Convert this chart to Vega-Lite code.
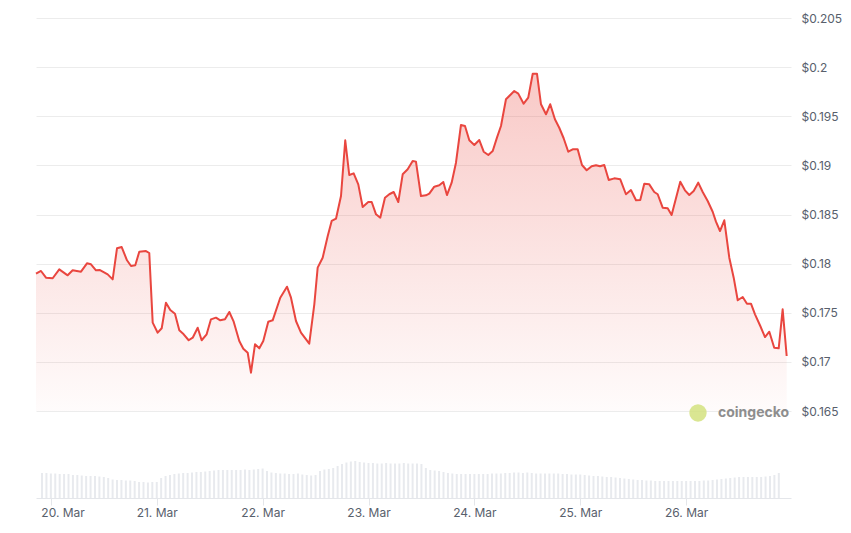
{
  "$schema": "https://vega.github.io/schema/vega-lite/v6.json",
  "background": "#ffffff",
  "padding": {"left": 35, "top": 12, "right": 0, "bottom": 5},
  "bounds": "flush",
  "config": {
    "view": {"stroke": null},
    "font": "Inter",
    "axis": {"labelFont": "Inter", "labelFontSize": 12, "labelColor": "#58606c"}
  },
  "datasets": {
    "price": [
      {"t": "2025-03-19T21:46Z", "p": 0.17897}, {"t": "2025-03-19T22:53Z", "p": 0.17925},
      {"t": "2025-03-20T00:00Z", "p": 0.17857}, {"t": "2025-03-20T01:30Z", "p": 0.17851},
      {"t": "2025-03-20T02:58Z", "p": 0.17942}, {"t": "2025-03-20T04:51Z", "p": 0.17881},
      {"t": "2025-03-20T05:58Z", "p": 0.17932}, {"t": "2025-03-20T07:50Z", "p": 0.17918},
      {"t": "2025-03-20T09:10Z", "p": 0.18003}, {"t": "2025-03-20T10:04Z", "p": 0.17993},
      {"t": "2025-03-20T11:11Z", "p": 0.17932}, {"t": "2025-03-20T12:05Z", "p": 0.17935},
      {"t": "2025-03-20T13:48Z", "p": 0.17891}, {"t": "2025-03-20T14:55Z", "p": 0.17840},
      {"t": "2025-03-20T15:53Z", "p": 0.18156}, {"t": "2025-03-20T16:56Z", "p": 0.18169},
      {"t": "2025-03-20T18:07Z", "p": 0.18034}, {"t": "2025-03-20T19:01Z", "p": 0.17976},
      {"t": "2025-03-20T19:58Z", "p": 0.17983}, {"t": "2025-03-20T20:52Z", "p": 0.18121},
      {"t": "2025-03-20T22:22Z", "p": 0.18128}, {"t": "2025-03-20T23:06Z", "p": 0.18108},
      {"t": "2025-03-20T23:52Z", "p": 0.17399}, {"t": "2025-03-21T00:59Z", "p": 0.17297},
      {"t": "2025-03-21T01:53Z", "p": 0.17342}, {"t": "2025-03-21T02:50Z", "p": 0.17602},
      {"t": "2025-03-21T03:48Z", "p": 0.17528}, {"t": "2025-03-21T04:51Z", "p": 0.17490},
      {"t": "2025-03-21T05:49Z", "p": 0.17321}, {"t": "2025-03-21T06:48Z", "p": 0.17281},
      {"t": "2025-03-21T07:55Z", "p": 0.17220}, {"t": "2025-03-21T08:49Z", "p": 0.17246},
      {"t": "2025-03-21T09:56Z", "p": 0.17348}, {"t": "2025-03-21T10:49Z", "p": 0.17220},
      {"t": "2025-03-21T11:56Z", "p": 0.17281}, {"t": "2025-03-21T12:54Z", "p": 0.17433},
      {"t": "2025-03-21T14:01Z", "p": 0.17450}, {"t": "2025-03-21T14:59Z", "p": 0.17423},
      {"t": "2025-03-21T16:02Z", "p": 0.17433}, {"t": "2025-03-21T17:00Z", "p": 0.17508},
      {"t": "2025-03-21T17:59Z", "p": 0.17409}, {"t": "2025-03-21T19:14Z", "p": 0.17212},
      {"t": "2025-03-21T20:08Z", "p": 0.17134}, {"t": "2025-03-21T21:07Z", "p": 0.17093},
      {"t": "2025-03-21T21:51Z", "p": 0.16890}, {"t": "2025-03-21T22:45Z", "p": 0.17179},
      {"t": "2025-03-21T23:43Z", "p": 0.17138}, {"t": "2025-03-22T00:36Z", "p": 0.17212},
      {"t": "2025-03-22T01:43Z", "p": 0.17409}, {"t": "2025-03-22T02:42Z", "p": 0.17423},
      {"t": "2025-03-22T04:24Z", "p": 0.17653}, {"t": "2025-03-22T05:54Z", "p": 0.17765},
      {"t": "2025-03-22T06:48Z", "p": 0.17653}, {"t": "2025-03-22T07:55Z", "p": 0.17416},
      {"t": "2025-03-22T09:02Z", "p": 0.17297}, {"t": "2025-03-22T10:53Z", "p": 0.17185},
      {"t": "2025-03-22T12:01Z", "p": 0.17586}, {"t": "2025-03-22T12:46Z", "p": 0.17959},
      {"t": "2025-03-22T13:53Z", "p": 0.18060}, {"t": "2025-03-22T15:01Z", "p": 0.18281},
      {"t": "2025-03-22T15:54Z", "p": 0.18434}, {"t": "2025-03-22T16:52Z", "p": 0.18457},
      {"t": "2025-03-22T17:59Z", "p": 0.18688}, {"t": "2025-03-22T18:56Z", "p": 0.19255},
      {"t": "2025-03-22T19:50Z", "p": 0.18902}, {"t": "2025-03-22T20:49Z", "p": 0.18919},
      {"t": "2025-03-22T21:51Z", "p": 0.18807}, {"t": "2025-03-22T22:50Z", "p": 0.18576},
      {"t": "2025-03-23T00:05Z", "p": 0.18627}, {"t": "2025-03-23T00:51Z", "p": 0.18627},
      {"t": "2025-03-23T01:49Z", "p": 0.18502}, {"t": "2025-03-23T02:46Z", "p": 0.18467},
      {"t": "2025-03-23T03:49Z", "p": 0.18671}, {"t": "2025-03-23T04:47Z", "p": 0.18706},
      {"t": "2025-03-23T05:46Z", "p": 0.18729}, {"t": "2025-03-23T06:48Z", "p": 0.18627},
      {"t": "2025-03-23T07:47Z", "p": 0.18909}, {"t": "2025-03-23T08:54Z", "p": 0.18960},
      {"t": "2025-03-23T10:01Z", "p": 0.19045}, {"t": "2025-03-23T10:45Z", "p": 0.19038},
      {"t": "2025-03-23T11:52Z", "p": 0.18688}, {"t": "2025-03-23T12:59Z", "p": 0.18695},
      {"t": "2025-03-23T13:44Z", "p": 0.18712}, {"t": "2025-03-23T14:51Z", "p": 0.18783},
      {"t": "2025-03-23T15:58Z", "p": 0.18797}, {"t": "2025-03-23T16:52Z", "p": 0.18831},
      {"t": "2025-03-23T17:41Z", "p": 0.18698}, {"t": "2025-03-23T18:44Z", "p": 0.18824},
      {"t": "2025-03-23T19:42Z", "p": 0.19027}, {"t": "2025-03-23T20:49Z", "p": 0.19411},
      {"t": "2025-03-23T21:43Z", "p": 0.19401}, {"t": "2025-03-23T22:41Z", "p": 0.19255},
      {"t": "2025-03-23T23:48Z", "p": 0.19207}, {"t": "2025-03-24T00:55Z", "p": 0.19258},
      {"t": "2025-03-24T01:54Z", "p": 0.19139}, {"t": "2025-03-24T02:56Z", "p": 0.19106},
      {"t": "2025-03-24T03:55Z", "p": 0.19146}, {"t": "2025-03-24T04:52Z", "p": 0.19282},
      {"t": "2025-03-24T05:46Z", "p": 0.19401}, {"t": "2025-03-24T06:53Z", "p": 0.19673},
      {"t": "2025-03-24T08:44Z", "p": 0.19757}, {"t": "2025-03-24T09:38Z", "p": 0.19730},
      {"t": "2025-03-24T10:50Z", "p": 0.19628}, {"t": "2025-03-24T11:52Z", "p": 0.19689},
      {"t": "2025-03-24T12:52Z", "p": 0.19933}, {"t": "2025-03-24T13:49Z", "p": 0.19933},
      {"t": "2025-03-24T14:43Z", "p": 0.19622}, {"t": "2025-03-24T15:50Z", "p": 0.19520},
      {"t": "2025-03-24T16:47Z", "p": 0.19622}, {"t": "2025-03-24T17:50Z", "p": 0.19469},
      {"t": "2025-03-24T18:48Z", "p": 0.19383}, {"t": "2025-03-24T19:47Z", "p": 0.19276},
      {"t": "2025-03-24T20:49Z", "p": 0.19139}, {"t": "2025-03-24T21:48Z", "p": 0.19164},
      {"t": "2025-03-24T22:55Z", "p": 0.19164}, {"t": "2025-03-24T23:53Z", "p": 0.19004},
      {"t": "2025-03-25T00:56Z", "p": 0.18950}, {"t": "2025-03-25T02:03Z", "p": 0.18991},
      {"t": "2025-03-25T03:01Z", "p": 0.19001}, {"t": "2025-03-25T03:55Z", "p": 0.18991},
      {"t": "2025-03-25T04:52Z", "p": 0.19004}, {"t": "2025-03-25T05:52Z", "p": 0.18851},
      {"t": "2025-03-25T07:07Z", "p": 0.18868}, {"t": "2025-03-25T08:27Z", "p": 0.18858},
      {"t": "2025-03-25T09:43Z", "p": 0.18706}, {"t": "2025-03-25T10:50Z", "p": 0.18749},
      {"t": "2025-03-25T11:58Z", "p": 0.18645}, {"t": "2025-03-25T12:55Z", "p": 0.18648},
      {"t": "2025-03-25T13:49Z", "p": 0.18814}, {"t": "2025-03-25T14:56Z", "p": 0.18807},
      {"t": "2025-03-25T16:03Z", "p": 0.18729}, {"t": "2025-03-25T16:49Z", "p": 0.18706},
      {"t": "2025-03-25T17:56Z", "p": 0.18569}, {"t": "2025-03-25T19:03Z", "p": 0.18563},
      {"t": "2025-03-25T19:56Z", "p": 0.18495}, {"t": "2025-03-25T21:52Z", "p": 0.18834},
      {"t": "2025-03-25T22:55Z", "p": 0.18746}, {"t": "2025-03-25T23:53Z", "p": 0.18698},
      {"t": "2025-03-26T00:52Z", "p": 0.18739}, {"t": "2025-03-26T01:53Z", "p": 0.18824},
      {"t": "2025-03-26T02:53Z", "p": 0.18729}, {"t": "2025-03-26T04:00Z", "p": 0.18637},
      {"t": "2025-03-26T05:07Z", "p": 0.18528}, {"t": "2025-03-26T05:51Z", "p": 0.18427},
      {"t": "2025-03-26T06:45Z", "p": 0.18332}, {"t": "2025-03-26T07:43Z", "p": 0.18441},
      {"t": "2025-03-26T08:50Z", "p": 0.18060}, {"t": "2025-03-26T09:49Z", "p": 0.17857},
      {"t": "2025-03-26T10:43Z", "p": 0.17627}, {"t": "2025-03-26T11:50Z", "p": 0.17660},
      {"t": "2025-03-26T12:47Z", "p": 0.17592}, {"t": "2025-03-26T13:41Z", "p": 0.17592},
      {"t": "2025-03-26T14:35Z", "p": 0.17484}, {"t": "2025-03-26T15:46Z", "p": 0.17365},
      {"t": "2025-03-26T16:49Z", "p": 0.17253}, {"t": "2025-03-26T17:47Z", "p": 0.17307},
      {"t": "2025-03-26T18:53Z", "p": 0.17144}, {"t": "2025-03-26T19:53Z", "p": 0.17138},
      {"t": "2025-03-26T20:46Z", "p": 0.17535}, {"t": "2025-03-26T21:40Z", "p": 0.17060}
    ],
    "vol": [
      {"t": "2025-03-19T22:00Z", "v": 25}, {"t": "2025-03-19T23:00Z", "v": 25},
      {"t": "2025-03-20T00:00Z", "v": 24.5}, {"t": "2025-03-20T01:00Z", "v": 24.5}, {"t": "2025-03-20T02:00Z", "v": 24}, {"t": "2025-03-20T03:00Z", "v": 24},
      {"t": "2025-03-20T04:00Z", "v": 24}, {"t": "2025-03-20T05:00Z", "v": 23}, {"t": "2025-03-20T06:00Z", "v": 23}, {"t": "2025-03-20T07:00Z", "v": 22.5},
      {"t": "2025-03-20T08:00Z", "v": 22}, {"t": "2025-03-20T09:00Z", "v": 22}, {"t": "2025-03-20T10:00Z", "v": 22}, {"t": "2025-03-20T11:00Z", "v": 21.5},
      {"t": "2025-03-20T12:00Z", "v": 21}, {"t": "2025-03-20T13:00Z", "v": 20}, {"t": "2025-03-20T14:00Z", "v": 18.5}, {"t": "2025-03-20T15:00Z", "v": 18},
      {"t": "2025-03-20T16:00Z", "v": 18}, {"t": "2025-03-20T17:00Z", "v": 17.5}, {"t": "2025-03-20T18:00Z", "v": 17.5}, {"t": "2025-03-20T19:00Z", "v": 17},
      {"t": "2025-03-20T20:00Z", "v": 16}, {"t": "2025-03-20T21:00Z", "v": 16}, {"t": "2025-03-20T22:00Z", "v": 15.5}, {"t": "2025-03-20T23:00Z", "v": 16},
      {"t": "2025-03-21T00:00Z", "v": 16}, {"t": "2025-03-21T01:00Z", "v": 20}, {"t": "2025-03-21T02:00Z", "v": 22}, {"t": "2025-03-21T03:00Z", "v": 23},
      {"t": "2025-03-21T04:00Z", "v": 24}, {"t": "2025-03-21T05:00Z", "v": 24.5}, {"t": "2025-03-21T06:00Z", "v": 25}, {"t": "2025-03-21T07:00Z", "v": 25},
      {"t": "2025-03-21T08:00Z", "v": 25.5}, {"t": "2025-03-21T09:00Z", "v": 26}, {"t": "2025-03-21T10:00Z", "v": 26}, {"t": "2025-03-21T11:00Z", "v": 26.5},
      {"t": "2025-03-21T12:00Z", "v": 27}, {"t": "2025-03-21T13:00Z", "v": 27.5}, {"t": "2025-03-21T14:00Z", "v": 28}, {"t": "2025-03-21T15:00Z", "v": 28},
      {"t": "2025-03-21T16:00Z", "v": 28}, {"t": "2025-03-21T17:00Z", "v": 28}, {"t": "2025-03-21T18:00Z", "v": 28}, {"t": "2025-03-21T19:00Z", "v": 28},
      {"t": "2025-03-21T20:00Z", "v": 28.5}, {"t": "2025-03-21T21:00Z", "v": 28}, {"t": "2025-03-21T22:00Z", "v": 28.5}, {"t": "2025-03-21T23:00Z", "v": 29},
      {"t": "2025-03-22T00:00Z", "v": 29.5}, {"t": "2025-03-22T01:00Z", "v": 27}, {"t": "2025-03-22T02:00Z", "v": 25.5}, {"t": "2025-03-22T03:00Z", "v": 25},
      {"t": "2025-03-22T04:00Z", "v": 24.5}, {"t": "2025-03-22T05:00Z", "v": 24.5}, {"t": "2025-03-22T06:00Z", "v": 24}, {"t": "2025-03-22T07:00Z", "v": 24},
      {"t": "2025-03-22T08:00Z", "v": 24.5}, {"t": "2025-03-22T09:00Z", "v": 23.5}, {"t": "2025-03-22T10:00Z", "v": 23}, {"t": "2025-03-22T11:00Z", "v": 22.5},
      {"t": "2025-03-22T12:00Z", "v": 23}, {"t": "2025-03-22T13:00Z", "v": 27}, {"t": "2025-03-22T14:00Z", "v": 28.5}, {"t": "2025-03-22T15:00Z", "v": 29},
      {"t": "2025-03-22T16:00Z", "v": 30}, {"t": "2025-03-22T17:00Z", "v": 32}, {"t": "2025-03-22T18:00Z", "v": 34}, {"t": "2025-03-22T19:00Z", "v": 35.5},
      {"t": "2025-03-22T20:00Z", "v": 36.5}, {"t": "2025-03-22T21:00Z", "v": 37}, {"t": "2025-03-22T22:00Z", "v": 36}, {"t": "2025-03-22T23:00Z", "v": 35.5},
      {"t": "2025-03-23T00:00Z", "v": 35}, {"t": "2025-03-23T01:00Z", "v": 35}, {"t": "2025-03-23T02:00Z", "v": 34.5}, {"t": "2025-03-23T03:00Z", "v": 34.5},
      {"t": "2025-03-23T04:00Z", "v": 35}, {"t": "2025-03-23T05:00Z", "v": 34.5}, {"t": "2025-03-23T06:00Z", "v": 34.5}, {"t": "2025-03-23T07:00Z", "v": 34.5},
      {"t": "2025-03-23T08:00Z", "v": 35}, {"t": "2025-03-23T09:00Z", "v": 34.5}, {"t": "2025-03-23T10:00Z", "v": 34.5}, {"t": "2025-03-23T11:00Z", "v": 34.5},
      {"t": "2025-03-23T12:00Z", "v": 34}, {"t": "2025-03-23T13:00Z", "v": 30}, {"t": "2025-03-23T14:00Z", "v": 28}, {"t": "2025-03-23T15:00Z", "v": 27.5},
      {"t": "2025-03-23T16:00Z", "v": 27}, {"t": "2025-03-23T17:00Z", "v": 26}, {"t": "2025-03-23T18:00Z", "v": 25}, {"t": "2025-03-23T19:00Z", "v": 24.5},
      {"t": "2025-03-23T20:00Z", "v": 24}, {"t": "2025-03-23T21:00Z", "v": 24}, {"t": "2025-03-23T22:00Z", "v": 24}, {"t": "2025-03-23T23:00Z", "v": 24},
      {"t": "2025-03-24T00:00Z", "v": 24}, {"t": "2025-03-24T01:00Z", "v": 24}, {"t": "2025-03-24T02:00Z", "v": 24}, {"t": "2025-03-24T03:00Z", "v": 24},
      {"t": "2025-03-24T04:00Z", "v": 24.5}, {"t": "2025-03-24T05:00Z", "v": 24.5}, {"t": "2025-03-24T06:00Z", "v": 24.5}, {"t": "2025-03-24T07:00Z", "v": 25},
      {"t": "2025-03-24T08:00Z", "v": 25}, {"t": "2025-03-24T09:00Z", "v": 25.5}, {"t": "2025-03-24T10:00Z", "v": 25.5}, {"t": "2025-03-24T11:00Z", "v": 25},
      {"t": "2025-03-24T12:00Z", "v": 25.5}, {"t": "2025-03-24T13:00Z", "v": 25}, {"t": "2025-03-24T14:00Z", "v": 24.5}, {"t": "2025-03-24T15:00Z", "v": 24.5},
      {"t": "2025-03-24T16:00Z", "v": 24.5}, {"t": "2025-03-24T17:00Z", "v": 24.5}, {"t": "2025-03-24T18:00Z", "v": 24.5}, {"t": "2025-03-24T19:00Z", "v": 24.5},
      {"t": "2025-03-24T20:00Z", "v": 24}, {"t": "2025-03-24T21:00Z", "v": 24}, {"t": "2025-03-24T22:00Z", "v": 23.5}, {"t": "2025-03-24T23:00Z", "v": 23.5},
      {"t": "2025-03-25T00:00Z", "v": 23.5}, {"t": "2025-03-25T01:00Z", "v": 23}, {"t": "2025-03-25T02:00Z", "v": 22.5}, {"t": "2025-03-25T03:00Z", "v": 22},
      {"t": "2025-03-25T04:00Z", "v": 22}, {"t": "2025-03-25T05:00Z", "v": 21.5}, {"t": "2025-03-25T06:00Z", "v": 21}, {"t": "2025-03-25T07:00Z", "v": 21},
      {"t": "2025-03-25T08:00Z", "v": 20.5}, {"t": "2025-03-25T09:00Z", "v": 20}, {"t": "2025-03-25T10:00Z", "v": 19.5}, {"t": "2025-03-25T11:00Z", "v": 19},
      {"t": "2025-03-25T12:00Z", "v": 18.5}, {"t": "2025-03-25T13:00Z", "v": 18}, {"t": "2025-03-25T14:00Z", "v": 18}, {"t": "2025-03-25T15:00Z", "v": 17.5},
      {"t": "2025-03-25T16:00Z", "v": 17.5}, {"t": "2025-03-25T17:00Z", "v": 17}, {"t": "2025-03-25T18:00Z", "v": 17}, {"t": "2025-03-25T19:00Z", "v": 17},
      {"t": "2025-03-25T20:00Z", "v": 17}, {"t": "2025-03-25T21:00Z", "v": 17}, {"t": "2025-03-25T22:00Z", "v": 17}, {"t": "2025-03-25T23:00Z", "v": 17},
      {"t": "2025-03-26T00:00Z", "v": 17}, {"t": "2025-03-26T01:00Z", "v": 17}, {"t": "2025-03-26T02:00Z", "v": 17}, {"t": "2025-03-26T03:00Z", "v": 17},
      {"t": "2025-03-26T04:00Z", "v": 17.5}, {"t": "2025-03-26T05:00Z", "v": 17.5}, {"t": "2025-03-26T06:00Z", "v": 18}, {"t": "2025-03-26T07:00Z", "v": 18.5},
      {"t": "2025-03-26T08:00Z", "v": 19}, {"t": "2025-03-26T09:00Z", "v": 19.5}, {"t": "2025-03-26T10:00Z", "v": 20}, {"t": "2025-03-26T11:00Z", "v": 20.5},
      {"t": "2025-03-26T12:00Z", "v": 21}, {"t": "2025-03-26T13:00Z", "v": 21}, {"t": "2025-03-26T14:00Z", "v": 21}, {"t": "2025-03-26T15:00Z", "v": 21},
      {"t": "2025-03-26T16:00Z", "v": 21}, {"t": "2025-03-26T17:00Z", "v": 21}, {"t": "2025-03-26T18:00Z", "v": 21.5}, {"t": "2025-03-26T19:00Z", "v": 22},
      {"t": "2025-03-26T20:00Z", "v": 23}, {"t": "2025-03-26T21:00Z", "v": 25}
    ],
    "brand": [{"t": "2025-03-26T06:18Z", "p": 0.1648, "label": "coingecko"}],
    "logo": [{"t": "2025-03-26T01:50Z", "p": 0.1648}]
  },
  "spacing": 32,
  "vconcat": [
    {
      "width": 755,
      "height": 393,
      "encoding": {
        "x": {
          "field": "t", "type": "temporal",
          "scale": {"type": "utc", "domain": [
            {"year": 2025, "month": 3, "date": 19, "hours": 21, "minutes": 46, "utc": true},
            {"year": 2025, "month": 3, "date": 26, "hours": 22, "minutes": 38, "utc": true}
          ]},
          "axis": null
        },
        "y": {
          "field": "p", "type": "quantitative",
          "scale": {"domain": [0.165, 0.205], "zero": false},
          "axis": {
            "orient": "right", "title": null,
            "values": [0.165, 0.17, 0.175, 0.18, 0.185, 0.19, 0.195, 0.2, 0.205],
            "format": "$.3~f",
            "grid": true, "gridColor": "#ececec", "gridWidth": 1,
            "domain": false, "ticks": false, "labelPadding": 10
          }
        }
      },
      "layer": [
        {
          "data": {"name": "price"},
          "mark": {
            "type": "area",
            "color": {
              "gradient": "linear", "x1": 0, "y1": 0, "x2": 0, "y2": 1,
              "stops": [
                {"offset": 0, "color": "rgba(234,76,68,0.30)"},
                {"offset": 1, "color": "rgba(234,76,68,0.02)"}
              ]
            }
          },
          "encoding": {"y2": {"datum": 0.165}}
        },
        {
          "data": {"name": "price"},
          "mark": {"type": "line", "color": "#e9463f", "strokeWidth": 2, "strokeJoin": "round"}
        },
        {
          "data": {"name": "logo"},
          "mark": {"type": "circle", "size": 300, "color": "#d3e27f", "opacity": 0.85}
        },
        {
          "data": {"name": "brand"},
          "mark": {"type": "text", "align": "left", "baseline": "middle", "font": "Inter", "fontWeight": "bold", "fontSize": 14, "color": "#8e8e8e"},
          "encoding": {"text": {"field": "label"}}
        }
      ]
    },
    {
      "width": 755,
      "height": 55,
      "data": {"name": "vol"},
      "mark": {"type": "bar", "color": "#e8eaee", "size": 2},
      "encoding": {
        "x": {
          "field": "t", "type": "temporal",
          "scale": {"type": "utc", "domain": [
            {"year": 2025, "month": 3, "date": 19, "hours": 21, "minutes": 46, "utc": true},
            {"year": 2025, "month": 3, "date": 26, "hours": 22, "minutes": 38, "utc": true}
          ]},
          "axis": {
            "title": null,
            "values": [
              {"year": 2025, "month": 3, "date": 20, "utc": true},
              {"year": 2025, "month": 3, "date": 21, "utc": true},
              {"year": 2025, "month": 3, "date": 22, "utc": true},
              {"year": 2025, "month": 3, "date": 23, "utc": true},
              {"year": 2025, "month": 3, "date": 24, "utc": true},
              {"year": 2025, "month": 3, "date": 25, "utc": true},
              {"year": 2025, "month": 3, "date": 26, "utc": true}
            ],
            "format": "%-d. %b",
            "labelFlush": false,
            "labelAlign": {"condition": {"test": "datum.value < 1742450400000", "value": "left"}, "value": "center"},
            "labelOffset": {"condition": {"test": "datum.value < 1742450400000", "value": -10}, "value": 0},
            "domainColor": "#e4e6ea", "tickColor": "#e4e6ea", "tickSize": 7,
            "labelPadding": 2, "grid": false
          }
        },
        "y": {"field": "v", "type": "quantitative", "scale": {"domain": [0, 55]}, "axis": null}
      }
    }
  ]
}
